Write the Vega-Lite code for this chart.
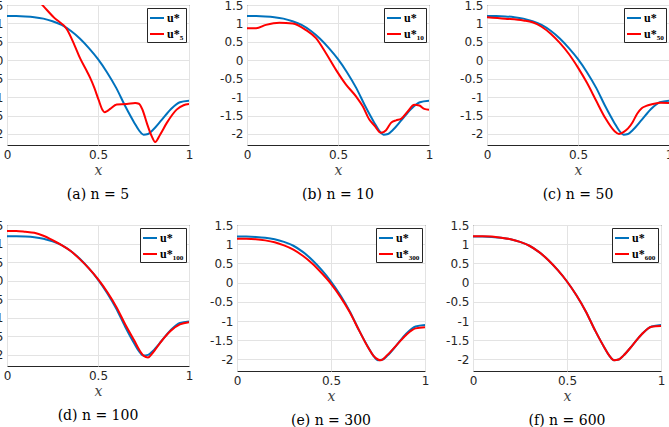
{
 "$schema": "https://vega.github.io/schema/vega-lite/v6.json",
 "padding": {"left": -21, "top": -2, "right": 0, "bottom": 0},
 "background": "white",
 "datasets": {
  "d": [
   {"p":"all","s":"u*","x":0,"y":1.20},{"p":"all","s":"u*","x":0.05,"y":1.20},{"p":"all","s":"u*","x":0.10,"y":1.19},{"p":"all","s":"u*","x":0.15,"y":1.17},{"p":"all","s":"u*","x":0.20,"y":1.13},{"p":"all","s":"u*","x":0.25,"y":1.06},{"p":"all","s":"u*","x":0.30,"y":0.96},{"p":"all","s":"u*","x":0.35,"y":0.80},{"p":"all","s":"u*","x":0.40,"y":0.59},{"p":"all","s":"u*","x":0.45,"y":0.33},{"p":"all","s":"u*","x":0.50,"y":0.03},{"p":"all","s":"u*","x":0.55,"y":-0.33},{"p":"all","s":"u*","x":0.60,"y":-0.75},{"p":"all","s":"u*","x":0.65,"y":-1.25},{"p":"all","s":"u*","x":0.70,"y":-1.70},{"p":"all","s":"u*","x":0.725,"y":-1.90},{"p":"all","s":"u*","x":0.75,"y":-2.02},{"p":"all","s":"u*","x":0.775,"y":-2.00},{"p":"all","s":"u*","x":0.80,"y":-1.90},{"p":"all","s":"u*","x":0.85,"y":-1.62},{"p":"all","s":"u*","x":0.90,"y":-1.33},{"p":"all","s":"u*","x":0.95,"y":-1.14},{"p":"all","s":"u*","x":1.00,"y":-1.10},

   {"p":"a","s":"u*₅","x":0,"y":2.4},{"p":"a","s":"u*₅","x":0.1,"y":2.0},{"p":"a","s":"u*₅","x":0.2,"y":1.47},{"p":"a","s":"u*₅","x":0.26,"y":1.15},{"p":"a","s":"u*₅","x":0.329,"y":0.84},{"p":"a","s":"u*₅","x":0.37,"y":0.42},{"p":"a","s":"u*₅","x":0.402,"y":0.05},{"p":"a","s":"u*₅","x":0.439,"y":-0.30},{"p":"a","s":"u*₅","x":0.457,"y":-0.48},{"p":"a","s":"u*₅","x":0.48,"y":-0.75},{"p":"a","s":"u*₅","x":0.503,"y":-1.07},{"p":"a","s":"u*₅","x":0.525,"y":-1.35},{"p":"a","s":"u*₅","x":0.536,"y":-1.41},{"p":"a","s":"u*₅","x":0.55,"y":-1.38},{"p":"a","s":"u*₅","x":0.567,"y":-1.32},{"p":"a","s":"u*₅","x":0.603,"y":-1.20},{"p":"a","s":"u*₅","x":0.658,"y":-1.19},{"p":"a","s":"u*₅","x":0.704,"y":-1.16},{"p":"a","s":"u*₅","x":0.725,"y":-1.18},{"p":"a","s":"u*₅","x":0.745,"y":-1.35},{"p":"a","s":"u*₅","x":0.768,"y":-1.70},{"p":"a","s":"u*₅","x":0.795,"y":-2.06},{"p":"a","s":"u*₅","x":0.814,"y":-2.22},{"p":"a","s":"u*₅","x":0.841,"y":-2.02},{"p":"a","s":"u*₅","x":0.878,"y":-1.70},{"p":"a","s":"u*₅","x":0.932,"y":-1.34},{"p":"a","s":"u*₅","x":0.97,"y":-1.22},{"p":"a","s":"u*₅","x":1.0,"y":-1.19},

   {"p":"b","s":"u*₁₀","x":0,"y":0.87},{"p":"b","s":"u*₁₀","x":0.05,"y":0.87},{"p":"b","s":"u*₁₀","x":0.104,"y":0.96},{"p":"b","s":"u*₁₀","x":0.178,"y":1.02},{"p":"b","s":"u*₁₀","x":0.251,"y":1.00},{"p":"b","s":"u*₁₀","x":0.324,"y":0.82},{"p":"b","s":"u*₁₀","x":0.379,"y":0.60},{"p":"b","s":"u*₁₀","x":0.434,"y":0.19},{"p":"b","s":"u*₁₀","x":0.489,"y":-0.26},{"p":"b","s":"u*₁₀","x":0.544,"y":-0.66},{"p":"b","s":"u*₁₀","x":0.599,"y":-0.98},{"p":"b","s":"u*₁₀","x":0.636,"y":-1.25},{"p":"b","s":"u*₁₀","x":0.672,"y":-1.61},{"p":"b","s":"u*₁₀","x":0.70,"y":-1.77},{"p":"b","s":"u*₁₀","x":0.736,"y":-1.97},{"p":"b","s":"u*₁₀","x":0.764,"y":-1.90},{"p":"b","s":"u*₁₀","x":0.791,"y":-1.70},{"p":"b","s":"u*₁₀","x":0.819,"y":-1.63},{"p":"b","s":"u*₁₀","x":0.846,"y":-1.59},{"p":"b","s":"u*₁₀","x":0.883,"y":-1.39},{"p":"b","s":"u*₁₀","x":0.919,"y":-1.21},{"p":"b","s":"u*₁₀","x":0.947,"y":-1.23},{"p":"b","s":"u*₁₀","x":0.974,"y":-1.32},{"p":"b","s":"u*₁₀","x":1.0,"y":-1.34},

   {"p":"c","s":"u*₅₀","x":0,"y":1.17},{"p":"c","s":"u*₅₀","x":0.1,"y":1.13},{"p":"c","s":"u*₅₀","x":0.2,"y":1.08},{"p":"c","s":"u*₅₀","x":0.25,"y":1.03},{"p":"c","s":"u*₅₀","x":0.30,"y":0.91},{"p":"c","s":"u*₅₀","x":0.35,"y":0.72},{"p":"c","s":"u*₅₀","x":0.40,"y":0.47},{"p":"c","s":"u*₅₀","x":0.45,"y":0.17},{"p":"c","s":"u*₅₀","x":0.50,"y":-0.20},{"p":"c","s":"u*₅₀","x":0.55,"y":-0.62},{"p":"c","s":"u*₅₀","x":0.60,"y":-1.10},{"p":"c","s":"u*₅₀","x":0.65,"y":-1.57},{"p":"c","s":"u*₅₀","x":0.70,"y":-1.92},{"p":"c","s":"u*₅₀","x":0.725,"y":-2.00},{"p":"c","s":"u*₅₀","x":0.75,"y":-1.95},{"p":"c","s":"u*₅₀","x":0.775,"y":-1.85},{"p":"c","s":"u*₅₀","x":0.80,"y":-1.68},{"p":"c","s":"u*₅₀","x":0.825,"y":-1.45},{"p":"c","s":"u*₅₀","x":0.85,"y":-1.30},{"p":"c","s":"u*₅₀","x":0.875,"y":-1.24},{"p":"c","s":"u*₅₀","x":0.90,"y":-1.20},{"p":"c","s":"u*₅₀","x":0.95,"y":-1.15},{"p":"c","s":"u*₅₀","x":1.0,"y":-1.16},

   {"p":"d","s":"u*₁₀₀","x":0,"y":1.34},{"p":"d","s":"u*₁₀₀","x":0.05,"y":1.34},{"p":"d","s":"u*₁₀₀","x":0.10,"y":1.32},{"p":"d","s":"u*₁₀₀","x":0.15,"y":1.29},{"p":"d","s":"u*₁₀₀","x":0.20,"y":1.21},{"p":"d","s":"u*₁₀₀","x":0.25,"y":1.09},{"p":"d","s":"u*₁₀₀","x":0.30,"y":0.96},{"p":"d","s":"u*₁₀₀","x":0.35,"y":0.80},{"p":"d","s":"u*₁₀₀","x":0.40,"y":0.58},{"p":"d","s":"u*₁₀₀","x":0.45,"y":0.33},{"p":"d","s":"u*₁₀₀","x":0.50,"y":0.04},{"p":"d","s":"u*₁₀₀","x":0.55,"y":-0.30},{"p":"d","s":"u*₁₀₀","x":0.60,"y":-0.70},{"p":"d","s":"u*₁₀₀","x":0.65,"y":-1.18},{"p":"d","s":"u*₁₀₀","x":0.70,"y":-1.62},{"p":"d","s":"u*₁₀₀","x":0.725,"y":-1.85},{"p":"d","s":"u*₁₀₀","x":0.75,"y":-2.02},{"p":"d","s":"u*₁₀₀","x":0.775,"y":-2.07},{"p":"d","s":"u*₁₀₀","x":0.80,"y":-1.95},{"p":"d","s":"u*₁₀₀","x":0.85,"y":-1.62},{"p":"d","s":"u*₁₀₀","x":0.90,"y":-1.35},{"p":"d","s":"u*₁₀₀","x":0.95,"y":-1.18},{"p":"d","s":"u*₁₀₀","x":1.0,"y":-1.12},

   {"p":"e","s":"u*₃₀₀","x":0,"y":1.14},{"p":"e","s":"u*₃₀₀","x":0.05,"y":1.14},{"p":"e","s":"u*₃₀₀","x":0.10,"y":1.13},{"p":"e","s":"u*₃₀₀","x":0.15,"y":1.10},{"p":"e","s":"u*₃₀₀","x":0.20,"y":1.05},{"p":"e","s":"u*₃₀₀","x":0.25,"y":0.97},{"p":"e","s":"u*₃₀₀","x":0.30,"y":0.86},{"p":"e","s":"u*₃₀₀","x":0.35,"y":0.70},{"p":"e","s":"u*₃₀₀","x":0.40,"y":0.50},{"p":"e","s":"u*₃₀₀","x":0.45,"y":0.25},{"p":"e","s":"u*₃₀₀","x":0.50,"y":-0.03},{"p":"e","s":"u*₃₀₀","x":0.55,"y":-0.37},{"p":"e","s":"u*₃₀₀","x":0.60,"y":-0.77},{"p":"e","s":"u*₃₀₀","x":0.65,"y":-1.25},{"p":"e","s":"u*₃₀₀","x":0.70,"y":-1.71},{"p":"e","s":"u*₃₀₀","x":0.725,"y":-1.90},{"p":"e","s":"u*₃₀₀","x":0.75,"y":-2.00},{"p":"e","s":"u*₃₀₀","x":0.765,"y":-2.02},{"p":"e","s":"u*₃₀₀","x":0.80,"y":-1.88},{"p":"e","s":"u*₃₀₀","x":0.85,"y":-1.62},{"p":"e","s":"u*₃₀₀","x":0.90,"y":-1.36},{"p":"e","s":"u*₃₀₀","x":0.95,"y":-1.19},{"p":"e","s":"u*₃₀₀","x":1.0,"y":-1.16},

   {"p":"f","s":"u*₆₀₀","x":0,"y":1.21},{"p":"f","s":"u*₆₀₀","x":0.05,"y":1.21},{"p":"f","s":"u*₆₀₀","x":0.10,"y":1.20},{"p":"f","s":"u*₆₀₀","x":0.15,"y":1.17},{"p":"f","s":"u*₆₀₀","x":0.20,"y":1.13},{"p":"f","s":"u*₆₀₀","x":0.25,"y":1.06},{"p":"f","s":"u*₆₀₀","x":0.30,"y":0.96},{"p":"f","s":"u*₆₀₀","x":0.35,"y":0.80},{"p":"f","s":"u*₆₀₀","x":0.40,"y":0.59},{"p":"f","s":"u*₆₀₀","x":0.45,"y":0.33},{"p":"f","s":"u*₆₀₀","x":0.50,"y":0.03},{"p":"f","s":"u*₆₀₀","x":0.55,"y":-0.33},{"p":"f","s":"u*₆₀₀","x":0.60,"y":-0.75},{"p":"f","s":"u*₆₀₀","x":0.65,"y":-1.25},{"p":"f","s":"u*₆₀₀","x":0.70,"y":-1.70},{"p":"f","s":"u*₆₀₀","x":0.725,"y":-1.90},{"p":"f","s":"u*₆₀₀","x":0.75,"y":-2.02},{"p":"f","s":"u*₆₀₀","x":0.775,"y":-2.00},{"p":"f","s":"u*₆₀₀","x":0.80,"y":-1.90},{"p":"f","s":"u*₆₀₀","x":0.85,"y":-1.62},{"p":"f","s":"u*₆₀₀","x":0.90,"y":-1.33},{"p":"f","s":"u*₆₀₀","x":0.95,"y":-1.15},{"p":"f","s":"u*₆₀₀","x":1.0,"y":-1.13}
  ]
 },
 "data": {"name": "d"},
 "spacing": 9,
 "resolve": {"scale": {"color": "independent"}, "legend": {"color": "independent"}},
 "vconcat": [
  {
   "hconcat": [
    {"width": 182, "height": 140, "title": "(a) n = 5",
     "transform": [{"filter": "datum.p=='all'||datum.p=='a'"}],
     "mark": {"type": "line", "clip": true, "strokeWidth": 2, "interpolate": "monotone"},
     "encoding": {
      "x": {"field": "x", "type": "quantitative", "scale": {"domain": [0, 1], "nice": false}, "axis": {"values": [0, 0.5, 1], "title": "x", "labelExpr": "toString(datum.value)"}},
      "y": {"field": "y", "type": "quantitative", "scale": {"domain": [-2.3, 1.5], "nice": false, "zero": false}, "axis": {"values": [-2, -1.5, -1, -0.5, 0, 0.5, 1, 1.5], "title": null, "labelExpr": "toString(datum.value)"}},
      "color": {"field": "s", "type": "nominal", "sort": null, "scale": {"domain": ["u*", "u*₅"], "range": ["#0072BD", "#FF0000"]}, "legend": {"title": null}}
     }},
    {"width": 182, "height": 140, "title": "(b) n = 10",
     "transform": [{"filter": "datum.p=='all'||datum.p=='b'"}],
     "mark": {"type": "line", "clip": true, "strokeWidth": 2, "interpolate": "monotone"},
     "encoding": {
      "x": {"field": "x", "type": "quantitative", "scale": {"domain": [0, 1], "nice": false}, "axis": {"values": [0, 0.5, 1], "title": "x", "labelExpr": "toString(datum.value)"}},
      "y": {"field": "y", "type": "quantitative", "scale": {"domain": [-2.3, 1.5], "nice": false, "zero": false}, "axis": {"values": [-2, -1.5, -1, -0.5, 0, 0.5, 1, 1.5], "title": null, "labelExpr": "toString(datum.value)"}},
      "color": {"field": "s", "type": "nominal", "sort": null, "scale": {"domain": ["u*", "u*₁₀"], "range": ["#0072BD", "#FF0000"]}, "legend": {"title": null}}
     }},
    {"width": 182, "height": 140, "title": "(c) n = 50",
     "transform": [{"filter": "datum.p=='all'||datum.p=='c'"}],
     "mark": {"type": "line", "clip": true, "strokeWidth": 2, "interpolate": "monotone"},
     "encoding": {
      "x": {"field": "x", "type": "quantitative", "scale": {"domain": [0, 1], "nice": false}, "axis": {"values": [0, 0.5, 1], "title": "x", "labelExpr": "toString(datum.value)"}},
      "y": {"field": "y", "type": "quantitative", "scale": {"domain": [-2.3, 1.5], "nice": false, "zero": false}, "axis": {"values": [-2, -1.5, -1, -0.5, 0, 0.5, 1, 1.5], "title": null, "labelExpr": "toString(datum.value)"}},
      "color": {"field": "s", "type": "nominal", "sort": null, "scale": {"domain": ["u*", "u*₅₀"], "range": ["#0072BD", "#FF0000"]}, "legend": {"title": null}}
     }}
   ],
   "spacing": 25,
   "resolve": {"scale": {"color": "independent"}, "legend": {"color": "independent"}}
  },
  {
   "hconcat": [
    {"width": 182, "height": 141, "title": "(d) n = 100",
     "transform": [{"filter": "datum.p=='all'||datum.p=='d'"}],
     "mark": {"type": "line", "clip": true, "strokeWidth": 2, "interpolate": "monotone"},
     "encoding": {
      "x": {"field": "x", "type": "quantitative", "scale": {"domain": [0, 1], "nice": false}, "axis": {"values": [0, 0.5, 1], "title": "x", "labelExpr": "toString(datum.value)"}},
      "y": {"field": "y", "type": "quantitative", "scale": {"domain": [-2.3, 1.5], "nice": false, "zero": false}, "axis": {"values": [-2, -1.5, -1, -0.5, 0, 0.5, 1, 1.5], "title": "x", "titleOpacity": 0, "titleX": 0, "titleY": -12, "titleAngle": 0, "titleBaseline": "top", "titleAlign": "left", "titleFontSize": 6, "labelExpr": "toString(datum.value)"}},
      "color": {"field": "s", "type": "nominal", "sort": null, "scale": {"domain": ["u*", "u*₁₀₀"], "range": ["#0072BD", "#FF0000"]}, "legend": {"title": null}}
     }},
    {"width": 188, "height": 146, "title": "(e) n = 300",
     "transform": [{"filter": "datum.p=='all'||datum.p=='e'"}],
     "mark": {"type": "line", "clip": true, "strokeWidth": 2, "interpolate": "monotone"},
     "encoding": {
      "x": {"field": "x", "type": "quantitative", "scale": {"domain": [0, 1], "nice": false}, "axis": {"values": [0, 0.5, 1], "title": "x", "labelExpr": "toString(datum.value)"}},
      "y": {"field": "y", "type": "quantitative", "scale": {"domain": [-2.3, 1.5], "nice": false, "zero": false}, "axis": {"values": [-2, -1.5, -1, -0.5, 0, 0.5, 1, 1.5], "title": null, "labelExpr": "toString(datum.value)"}},
      "color": {"field": "s", "type": "nominal", "sort": null, "scale": {"domain": ["u*", "u*₃₀₀"], "range": ["#0072BD", "#FF0000"]}, "legend": {"title": null}}
     }},
    {"width": 188, "height": 146, "title": "(f) n = 600",
     "transform": [{"filter": "datum.p=='all'||datum.p=='f'"}],
     "mark": {"type": "line", "clip": true, "strokeWidth": 2, "interpolate": "monotone"},
     "encoding": {
      "x": {"field": "x", "type": "quantitative", "scale": {"domain": [0, 1], "nice": false}, "axis": {"values": [0, 0.5, 1], "title": "x", "labelExpr": "toString(datum.value)"}},
      "y": {"field": "y", "type": "quantitative", "scale": {"domain": [-2.3, 1.5], "nice": false, "zero": false}, "axis": {"values": [-2, -1.5, -1, -0.5, 0, 0.5, 1, 1.5], "title": null, "labelExpr": "toString(datum.value)"}},
      "color": {"field": "s", "type": "nominal", "sort": null, "scale": {"domain": ["u*", "u*₆₀₀"], "range": ["#0072BD", "#FF0000"]}, "legend": {"title": null}}
     }}
   ],
   "spacing": 15,
   "resolve": {"scale": {"color": "independent"}, "legend": {"color": "independent"}}
  }
 ],
 "config": {
  "view": {"stroke": "#262626", "strokeWidth": 1},
  "axis": {"labelFont": "DejaVu Sans", "labelFontSize": 12, "labelColor": "#262626", "ticks": false, "domain": false, "grid": true, "gridColor": "#e3e3e3", "gridWidth": 1, "labelPadding": 4, "titleFont": "DejaVu Serif", "titleFontStyle": "italic", "titleFontWeight": "normal", "titleFontSize": 14, "titleColor": "#404040", "titlePadding": 3, "labelOverlap": false, "labelFlush": false},
  "legend": {"orient": "top-right", "offset": 3, "padding": 2, "strokeColor": "#262626", "fillColor": "white", "symbolType": "stroke", "symbolSize": 196, "symbolStrokeWidth": 2, "labelFont": "Liberation Serif", "labelFontSize": 12, "labelFontWeight": "bold", "labelColor": "black", "rowPadding": 2, "labelOffset": 2, "cornerRadius": 0},
  "title": {"orient": "bottom", "font": "DejaVu Serif", "fontSize": 14, "fontWeight": "normal", "color": "black", "offset": 11, "anchor": "middle"}
 }
}
